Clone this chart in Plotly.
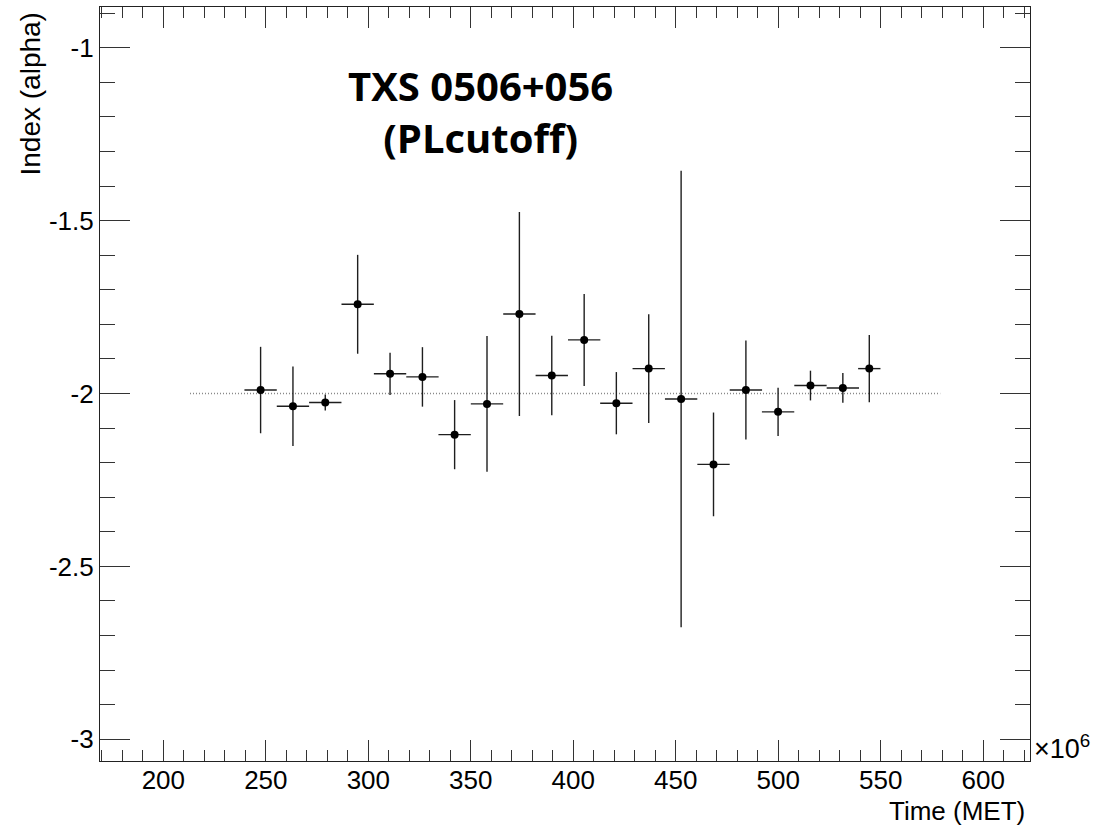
import plotly.graph_objects as go

# Six-month time bins (MET, units of 1e6 s): centres and half-widths
time_mid = [247.45, 263.23, 279.00, 294.80, 310.60, 326.40, 342.10, 357.90, 373.70, 389.50,
            405.30, 421.00, 436.80, 452.60, 468.40, 484.20, 499.90, 515.70, 531.50, 544.40]
time_halfwidth = [7.89, 7.89, 7.89, 7.89, 7.89, 7.89, 7.89, 7.89, 7.89, 7.89,
                  7.89, 7.89, 7.89, 7.89, 7.89, 7.89, 7.89, 7.89, 7.89, 5.45]

# Fitted photon index per bin and its uncertainty
index_alpha = [-1.990, -2.037, -2.026, -1.742, -1.943, -1.952, -2.119, -2.030, -1.770, -1.948,
               -1.845, -2.028, -1.928, -2.016, -2.205, -1.990, -2.053, -1.977, -1.984, -1.928]
index_err = [0.125, 0.115, 0.023, 0.143, 0.061, 0.086, 0.100, 0.196, 0.295, 0.115,
             0.133, 0.090, 0.157, 0.660, 0.150, 0.143, 0.070, 0.043, 0.043, 0.097]

# Reference level (average index) drawn across the time span
ref_x = [213.0, 579.0]
ref_y = [-2.0, -2.0]

x_tick_vals = [200, 250, 300, 350, 400, 450, 500, 550, 600]
x_tick_text = ["200", "250", "300", "350", "400", "450", "500", "550", "600"]
y_tick_vals = [-1.0, -1.5, -2.0, -2.5, -3.0]
y_tick_text = ["-1", "-1.5", "-2", "-2.5", "-3"]

W, H = 1100, 828
L, R, T, B = 100, 70, 7, 67
pw, ph = W - L - R, H - T - B

FONT = "Liberation Sans, Arial, sans-serif"

fig = go.Figure()

fig.add_trace(go.Scatter(
    x=ref_x, y=ref_y, mode="lines",
    line=dict(color="#8a8a8a", width=1.5, dash="1px,2px"),
    hoverinfo="skip", showlegend=False,
))

fig.add_trace(go.Scatter(
    x=time_mid, y=index_alpha, mode="markers",
    marker=dict(color="black", size=8, symbol="circle"),
    error_x=dict(type="data", array=time_halfwidth, visible=True,
                 color="#1e1e1e", thickness=1.4, width=0),
    error_y=dict(type="data", array=index_err, visible=True,
                 color="#1e1e1e", thickness=1.4, width=0),
    showlegend=False,
))

axis_common = dict(
    showline=True, linecolor="#222222", linewidth=1.2, mirror="allticks",
    ticks="inside", tickcolor="#333333", tickwidth=1,
    showgrid=False, zeroline=False,
    tickfont=dict(family=FONT, size=26, color="black"),
    tickmode="array",
)

fig.update_xaxes(
    range=[169.1, 622.8],
    tickvals=x_tick_vals, ticktext=x_tick_text,
    ticklen=21, ticklabelstandoff=-4,
    minor=dict(ticks="inside", ticklen=11, tickmode="linear", tick0=170, dtick=10,
               tickcolor="#333333", tickwidth=1, showgrid=False),
    **axis_common,
)
fig.update_yaxes(
    range=[-3.0628, -0.8822],
    tickvals=y_tick_vals, ticktext=y_tick_text,
    ticklen=30,
    minor=dict(ticks="inside", ticklen=15, tickmode="linear", tick0=-3.0, dtick=0.1,
               tickcolor="#333333", tickwidth=1, showgrid=False),
    **axis_common,
)

def px_x(px):
    return (px - L) / pw

def px_y(py):
    return (H - B - py) / ph

annotations = [
    dict(text="<b>TXS 0506+056</b><br><b>(PLcutoff)</b>",
         x=px_x(480), y=px_y(56), xref="paper", yref="paper",
         xanchor="center", yanchor="top", showarrow=False, align="center",
         font=dict(family="Open Sans, sans-serif", size=40, color="black")),
    dict(text="Index (alpha)", textangle=-90,
         x=px_x(30), y=px_y(11), xref="paper", yref="paper",
         xanchor="center", yanchor="top", showarrow=False,
         font=dict(family=FONT, size=28, color="black")),
    dict(text="Time (MET)",
         x=px_x(1027), y=px_y(811), xref="paper", yref="paper",
         xanchor="right", yanchor="middle", showarrow=False,
         font=dict(family=FONT, size=26, color="black")),
    dict(text="×10<sup>6</sup>",
         x=px_x(1032), y=px_y(747), xref="paper", yref="paper",
         xanchor="left", yanchor="middle", showarrow=False,
         font=dict(family=FONT, size=27, color="black")),
]

fig.update_layout(
    width=W, height=H,
    margin=dict(l=L, r=R, t=T, b=B, pad=0),
    paper_bgcolor="white", plot_bgcolor="white",
    annotations=annotations,
    showlegend=False,
)

fig.write_html("out.html")
